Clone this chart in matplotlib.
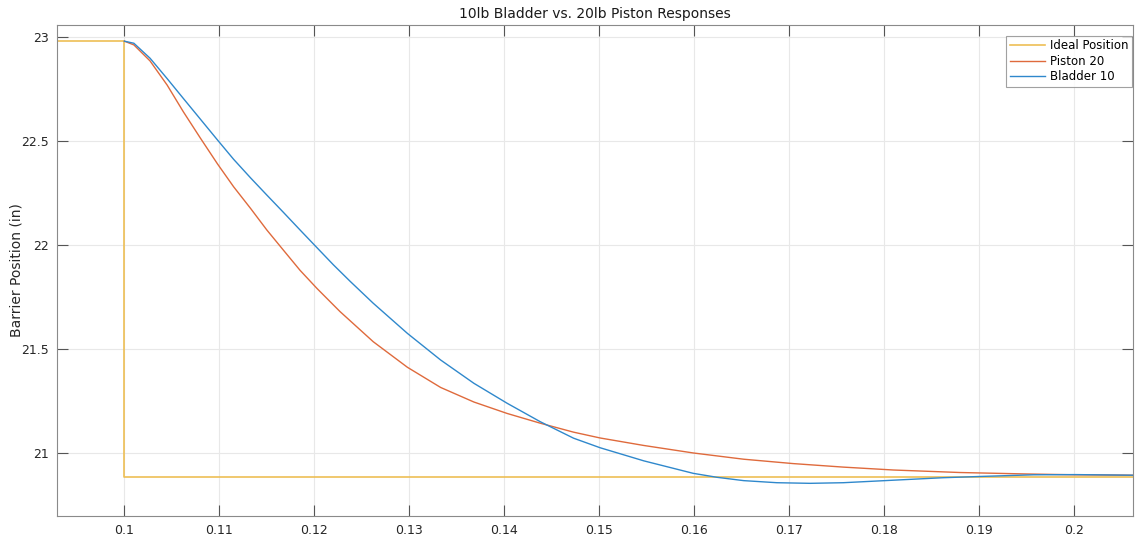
import matplotlib
matplotlib.use("Agg")
import matplotlib.pyplot as plt
from matplotlib.ticker import FuncFormatter

# Ideal step position
ideal_t = [0.0929, 0.1000, 0.1000, 0.2062]
ideal_pos = [22.982, 22.982, 20.884, 20.884]

# Piston 20 response
piston_t = [0.1000, 0.1010, 0.1027, 0.1045, 0.1062, 0.1080, 0.1098, 0.1115,
            0.1133, 0.1150, 0.1168, 0.1185, 0.1203, 0.1227, 0.1262, 0.1298,
            0.1333, 0.1368, 0.1403, 0.1438, 0.1473, 0.1501, 0.1547, 0.1599,
            0.1652, 0.1704, 0.1757, 0.1810, 0.1880, 0.1950, 0.2001, 0.2062]
piston_pos = [22.980, 22.962, 22.885, 22.769, 22.641, 22.514, 22.390, 22.280,
              22.175, 22.072, 21.972, 21.878, 21.790, 21.680, 21.535, 21.412,
              21.315, 21.245, 21.190, 21.143, 21.100, 21.072, 21.036, 21.000,
              20.970, 20.949, 20.932, 20.918, 20.906, 20.899, 20.895, 20.893]

# Bladder 10 response
bladder_t = [0.1000, 0.1010, 0.1027, 0.1045, 0.1062, 0.1080, 0.1098, 0.1115,
             0.1133, 0.1150, 0.1167, 0.1185, 0.1203, 0.1220, 0.1238, 0.1262,
             0.1298, 0.1333, 0.1368, 0.1403, 0.1438, 0.1473, 0.1501, 0.1547,
             0.1599, 0.1624, 0.1652, 0.1687, 0.1722, 0.1757, 0.1792, 0.1827,
             0.1862, 0.1901, 0.1957, 0.2001, 0.2062]
bladder_pos = [22.980, 22.970, 22.898, 22.800, 22.705, 22.605, 22.505, 22.412,
               22.322, 22.240, 22.159, 22.072, 21.986, 21.905, 21.824, 21.720,
               21.575, 21.447, 21.335, 21.239, 21.150, 21.071, 21.025, 20.962,
               20.902, 20.883, 20.867, 20.857, 20.854, 20.857, 20.865, 20.873,
               20.881, 20.887, 20.895, 20.896, 20.893]

x_ticks = [0.10, 0.11, 0.12, 0.13, 0.14, 0.15, 0.16, 0.17, 0.18, 0.19, 0.20]
y_ticks = [21, 21.5, 22, 22.5, 23]

fig = plt.figure(figsize=(11.35, 5.39), dpi=100)
ax = fig.add_axes([0.0502, 0.0427, 0.948, 0.911])

ax.plot(ideal_t, ideal_pos, color="#EEBF55", lw=1.2, label="Ideal Position")
ax.plot(piston_t, piston_pos, color="#DF6A3C", lw=1.0, label="Piston 20")
ax.plot(bladder_t, bladder_pos, color="#2F88CC", lw=1.0, label="Bladder 10")

ax.set_xlim(0.0929, 0.2062)
ax.set_ylim(20.697, 23.058)
ax.set_xticks(x_ticks)
ax.set_yticks(y_ticks)
ax.xaxis.set_major_formatter(FuncFormatter(lambda v, p: "%g" % round(v, 4)))
ax.yaxis.set_major_formatter(FuncFormatter(lambda v, p: "%g" % v))

ax.grid(True, color="#e8e8e8", lw=0.8)
ax.set_axisbelow(True)
for s in ax.spines.values():
    s.set_color("#8a8a8a")
ax.tick_params(direction="in", length=8, width=0.8, color="#555555",
               top=True, right=True, labelsize=9, labelcolor="#262626", pad=6)

ax.set_title("10lb Bladder vs. 20lb Piston Responses", fontsize=10,
             color="#1a1a1a", pad=5)
ax.set_ylabel("Barrier Position (in)", fontsize=10, color="#262626")
ax.yaxis.set_label_coords(-0.031, 0.5)

leg = ax.legend(loc="upper right", bbox_to_anchor=(1.0, 0.98), fontsize=8.5,
                frameon=True, fancybox=False, borderpad=0.3, labelspacing=0.2,
                handlelength=3.0, handletextpad=0.4, borderaxespad=0.1)
leg.get_frame().set_edgecolor("#8a8a8a")
leg.get_frame().set_linewidth(0.8)

plt.savefig("out.png", dpi=100)
plt.close()
